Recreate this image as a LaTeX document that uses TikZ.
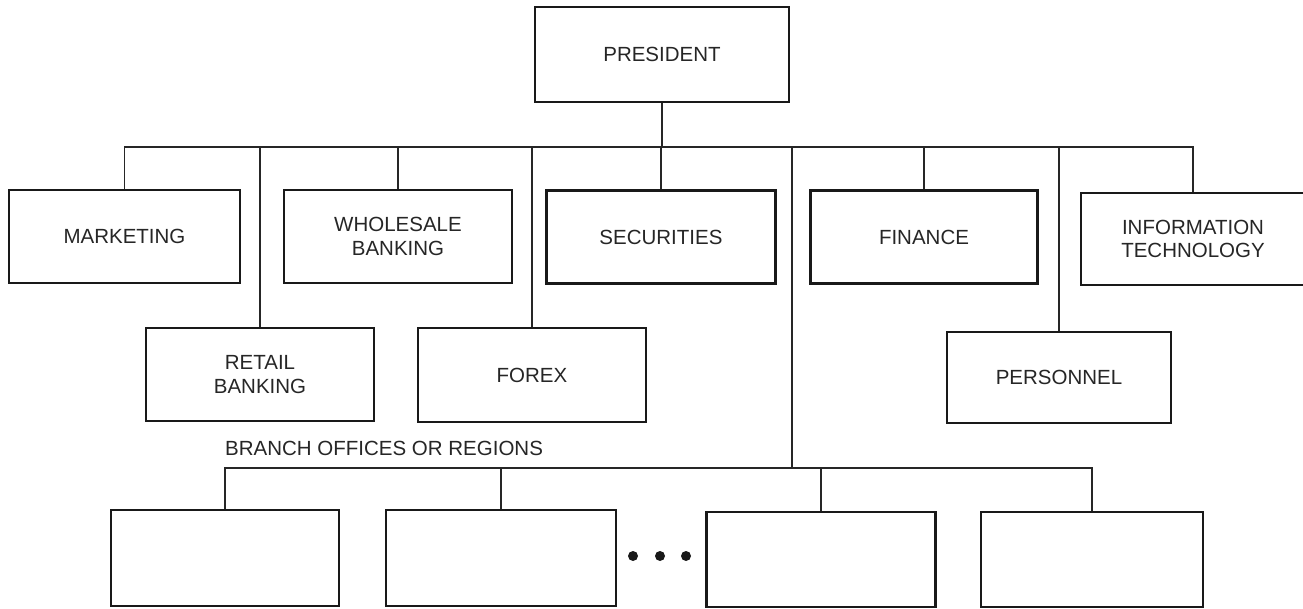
\documentclass[tikz,border=0pt]{standalone}
\usepackage{fontspec}
\setmainfont{Liberation Sans}
\begin{document}
\begin{tikzpicture}[x=1pt,y=-1pt,
  box/.style={draw=black!90,line width=2.5pt,rectangle,inner sep=0pt,align=center,
    font=\fontsize{20.5}{23.5}\selectfont,text=black!85},
  conn/.style={draw=black!85,line width=1.1pt},
  lbl/.style={font=\fontsize{20.5}{23.5}\selectfont,text=black!85,inner sep=0pt}]
\useasboundingbox (0,0) rectangle (1303,609);
% top
\node[box,minimum width=254pt,minimum height=95pt] (pres) at (662,54.5) {PRESIDENT};
% first row
\node[box,minimum width=231pt,minimum height=93pt] (mkt) at (124.5,236.5) {MARKETING};
\node[box,minimum width=228pt,minimum height=93pt] (whl) at (398,236.5) {WHOLESALE\\BANKING};
\node[box,minimum width=229pt,minimum height=93pt] (sec) at (661,237) {SECURITIES};
\node[box,minimum width=227pt,minimum height=93pt] (fin) at (924,237) {FINANCE};
\node[box,minimum width=224pt,minimum height=92pt] (it) at (1193,239) {INFORMATION\\TECHNOLOGY};
% second row
\node[box,minimum width=228pt,minimum height=93pt] (ret) at (260,374.5) {RETAIL\\BANKING};
\node[box,minimum width=228pt,minimum height=94pt] (fx) at (532,375) {FOREX};
\node[box,minimum width=224pt,minimum height=91pt] (per) at (1059,377.5) {PERSONNEL};
% branch label
\node[lbl,anchor=base west] (brl) at (225,455) {BRANCH OFFICES OR REGIONS};
% bottom row
\node[box,minimum width=228pt,minimum height=96pt] (b1) at (225,558) {};
\node[box,minimum width=230pt,minimum height=96pt] (b2) at (501,558) {};
\node[box,minimum width=229pt,minimum height=95pt] (b3) at (821,559.5) {};
\node[box,minimum width=222pt,minimum height=95pt] (b4) at (1092,559.5) {};
% dots
\foreach \xx/\nm in {633/d1,660/d2,686/d3}
  \fill[black!90] (\xx,556) circle (5pt) coordinate (\nm);
% connectors
\coordinate (bus) at (662,147);
\coordinate (bj) at (792,468);
\draw[conn] (pres.south) -- (bus);
\foreach \n in {mkt,whl,sec,fin,it,ret,fx,per}
  \draw[conn] (\n.north) |- (bus);
\draw[conn] (bj) |- (bus);
\foreach \n in {b1,b2,b3,b4}
  \draw[conn] (\n.north) |- (bj);
\end{tikzpicture}
\end{document}
